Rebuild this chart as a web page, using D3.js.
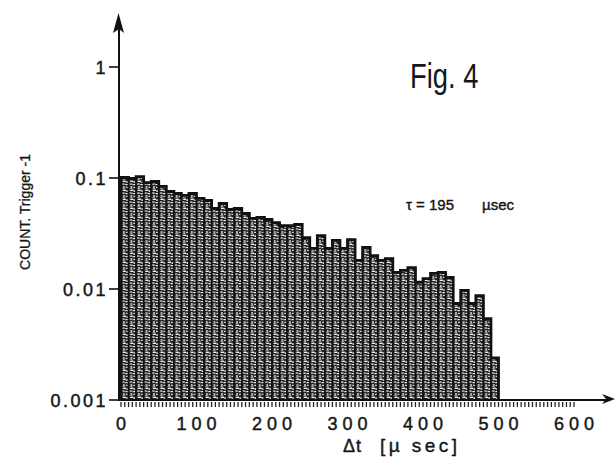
<!DOCTYPE html>
<html><head><meta charset="utf-8">
<script src="https://cdn.jsdelivr.net/npm/d3@7"></script>
<style>
body{margin:0;background:#fff}
svg{display:block}
text{font-family:"Liberation Sans",Arial,Helvetica,sans-serif;fill:#161616}
</style>
</head><body>
<svg id="c" width="616" height="462"></svg>
<script>
// ---- data ----
const binStart = [0,10,20,30,40,50,60,70,80,90,100,110,120,130,140,150,160,170,180,190,
  200,210,220,230,240,250,260,270,280,290,300,310,320,330,340,350,360,370,380,390,
  400,410,420,430,440,450,460,470,480,490];
const binWidth = 10;
const counts = [0.101,0.099,0.103,0.091,0.093,0.084,0.0756,0.0725,0.0696,0.0725,
  0.0654,0.0627,0.0531,0.0589,0.052,0.0531,0.0479,0.0432,0.0441,0.0423,
  0.0397,0.0373,0.0373,0.0381,0.029,0.0232,0.0303,0.0232,0.0274,0.0232,
  0.0279,0.0181,0.0237,0.0200,0.0181,0.0188,0.0141,0.0147,0.0156,0.0115,
  0.0124,0.0138,0.0141,0.0127,0.0074,0.0097,0.0074,0.0087,0.0054,0.0024];
const xTicks = [0,100,200,300,400,500,600];
const yTicks = [1,0.1,0.01,0.001];
const yTickLabels = ["1","0.1","0.01","0.001"];
const yTitle = "COUNT. Trigger -1";
const xTitleA = "\u0394t";
const xTitleB = "[\u00b5 sec]";
const figLabel = "Fig. 4";
const tauLabel = "\u03c4 = 195";
const tauUnit = "\u00b5sec";

// ---- scales ----
const svg = d3.select("#c");
const x = d3.scaleLinear().domain([0,600]).range([121,574]);
const y = d3.scaleLog().domain([0.001,1]).range([400,67]);

// texture pattern
const defs = svg.append("defs");
const pat = defs.append("pattern").attr("id","tex").attr("patternUnits","userSpaceOnUse")
  .attr("x",121).attr("y",0).attr("width",7.55).attr("height",9);
pat.append("rect").attr("width",7.55).attr("height",9).attr("fill","#222");
[[1.6,0.6,3.2,1.4],[5.2,1.2,1.3,1.8],[1.2,3.4,2.2,1.3],[4.2,4.0,2.4,1.2],
 [2.0,6.2,1.6,1.6],[4.8,6.8,1.8,1.1],[1.4,8.2,2.6,0.6]].forEach(r=>{
  pat.append("rect").attr("x",r[0]).attr("y",r[1]).attr("width",r[2]).attr("height",r[3]).attr("fill","#f4f4f4");
});

const data = binStart.map((s,i)=>({s, v: counts[i]}));

// bars
svg.append("g").selectAll("rect").data(data).join("rect")
  .attr("x",d=>x(d.s)).attr("width",d=>x(d.s+binWidth)-x(d.s))
  .attr("y",d=>y(d.v)).attr("height",d=>y(0.001)-y(d.v))
  .attr("fill","url(#tex)").attr("stroke","#111").attr("stroke-width",1.2);

// outline
const pts = [[x(binStart[0]), y(0.001)]];
data.forEach(d=>{ pts.push([x(d.s), y(d.v)]); pts.push([x(d.s+binWidth), y(d.v)]); });
pts.push([x(binStart[binStart.length-1]+binWidth), y(0.001)]);
svg.append("path").attr("d", d3.line()(pts)).attr("fill","none")
  .attr("stroke","#111").attr("stroke-width",2.8).attr("stroke-linejoin","miter");

// x axis line + minor ticks + arrow
const y0 = y(0.001);
svg.append("line").attr("x1",118).attr("x2",608).attr("y1",y0).attr("y2",y0)
  .attr("stroke","#111").attr("stroke-width",2);
svg.append("path").attr("d",`M602,${y0-6}L615,${y0-1}L602,${y0+4}L606,${y0-1}Z`).attr("fill","#111");
svg.append("g").selectAll("line").data(d3.range(0,601,5)).join("line")
  .attr("x1",d=>x(d)).attr("x2",d=>x(d)).attr("y1",y0+2).attr("y2",y0+7)
  .attr("stroke","#222").attr("stroke-width",1.3);

// x tick labels
svg.append("g").selectAll("text").data(xTicks).join("text")
  .attr("x",d=>x(d)+2.5).attr("y",430).attr("text-anchor","middle")
  .attr("font-size",18).attr("letter-spacing",5)
  .attr("stroke","#161616").attr("stroke-width",0.45).text(d=>d);

// y axis line + arrow
svg.append("line").attr("x1",119).attr("x2",119).attr("y1",y0+1).attr("y2",26)
  .attr("stroke","#111").attr("stroke-width",2);
svg.append("path").attr("d","M113,33L118.5,13L124,33L119,29Z").attr("fill","#111");

// y ticks
svg.append("g").selectAll("line").data(yTicks).join("line")
  .attr("x1",109).attr("x2",119).attr("y1",d=>y(d)).attr("y2",d=>y(d))
  .attr("stroke","#111").attr("stroke-width",1.6);
svg.append("g").selectAll("text").data(yTicks).join("text")
  .attr("x",108).attr("y",d=>y(d)+6.5).attr("text-anchor","end")
  .attr("font-size",18).attr("letter-spacing",2.5)
  .attr("stroke","#161616").attr("stroke-width",0.45).text((d,i)=>yTickLabels[i]);

// axis titles
svg.append("text").attr("transform","translate(30,212) rotate(-90)")
  .attr("text-anchor","middle").attr("font-size",14)
  .attr("stroke","#161616").attr("stroke-width",0.3).text(yTitle);
svg.append("text").attr("x",343).attr("y",452).attr("font-size",18).attr("letter-spacing",1)
  .attr("stroke","#161616").attr("stroke-width",0.4).text(xTitleA);
svg.append("text").attr("x",380).attr("y",452).attr("font-size",19)
  .attr("stroke","#161616").attr("stroke-width",0.4)
  .attr("textLength",77).attr("lengthAdjust","spacing").text(xTitleB);

// annotations
svg.append("text").attr("transform","translate(410,88) scale(0.76,1)")
  .attr("font-family","DejaVu Sans").attr("font-size",36).attr("fill","#222").text(figLabel);
svg.append("text").attr("x",406).attr("y",210).attr("font-size",15)
  .attr("stroke","#161616").attr("stroke-width",0.4).text(tauLabel);
svg.append("text").attr("x",482).attr("y",210).attr("font-size",15)
  .attr("stroke","#161616").attr("stroke-width",0.4).text(tauUnit);
</script>
</body></html>
